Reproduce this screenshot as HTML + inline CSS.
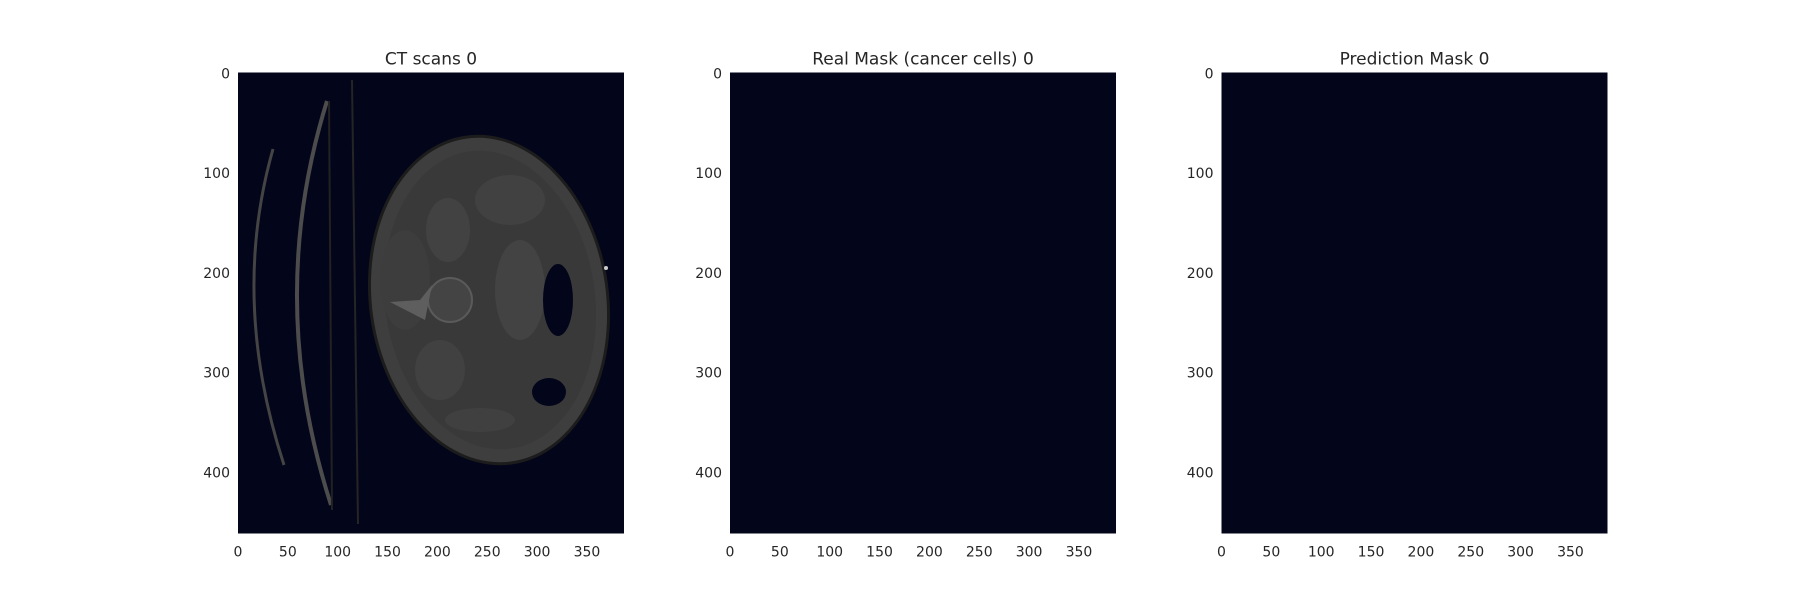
<!DOCTYPE html>
<html><head><meta charset="utf-8"><style>
body{margin:0;background:#fff;width:1800px;height:600px;overflow:hidden}
svg text{font-family:"DejaVu Sans","Liberation Sans",sans-serif;fill:#262626}
</style></head><body>
<svg width="1800" height="600" viewBox="0 0 1800 600">
<g id="panels"></g>
<defs><clipPath id="ct-clip"><rect x="238" y="72.5" width="386" height="461"/></clipPath></defs>
<g clip-path="url(#ct-clip)" id="ct">
  <path d="M273,149 Q230,300 284,465" stroke="#444" stroke-width="3" fill="none"/>
  <path d="M327,101 Q265,300 331,505" stroke="#4c4c4c" stroke-width="4" fill="none"/>
  <line x1="329" y1="101" x2="332" y2="510" stroke="#222" stroke-width="2"/>
  <line x1="352" y1="80" x2="358" y2="524" stroke="#252525" stroke-width="2"/>
  <ellipse cx="489" cy="300" rx="120" ry="166" fill="#1c1c1c" transform="rotate(-8 489 300)"/>
  <ellipse cx="489" cy="300" rx="117" ry="163" fill="#3e3e3e" transform="rotate(-8 489 300)"/>
  <ellipse cx="490" cy="300" rx="105" ry="150" fill="#393939" transform="rotate(-8 490 300)"/>
  <ellipse cx="448" cy="230" rx="22" ry="32" fill="#424242"/>
  <ellipse cx="510" cy="200" rx="35" ry="25" fill="#414141"/>
  <ellipse cx="520" cy="290" rx="25" ry="50" fill="#434343"/>
  <ellipse cx="440" cy="370" rx="25" ry="30" fill="#414141"/>
  <ellipse cx="480" cy="420" rx="35" ry="12" fill="#404040"/>
  <ellipse cx="405" cy="280" rx="25" ry="50" fill="#3d3d3d"/>
  <ellipse cx="450" cy="300" rx="22" ry="22" fill="#444" stroke="#5a5a5a" stroke-width="2"/>
  <path d="M390,302 L420,300 L432,285 L425,320 Z" fill="#5e5e5e"/>
  <ellipse cx="558" cy="300" rx="15" ry="36" fill="#03051a"/>
  <ellipse cx="549" cy="392" rx="17" ry="14" fill="#03051a"/>
  <circle cx="606" cy="268" r="2" fill="#ccc"/>
</g>
<script>
const xTicks=[0,50,100,150,200,250,300,350];
const yTicks=[0,100,200,300,400];
const titles=["CT scans 0","Real Mask (cancer cells) 0","Prediction Mask 0"];
const panelLeft=[238,730,1221.5];
const NS="http://www.w3.org/2000/svg";
const top0=72.5, W=386, H=461, scale=0.997;
const g=document.getElementById('panels');
function mk(t,a){const e=document.createElementNS(NS,t);for(const k in a)e.setAttribute(k,a[k]);return e;}
titles.forEach((t,i)=>{
  const L=panelLeft[i];
  const r=mk('rect',{x:L,y:top0,width:W,height:H,fill:'#03051a'});
  
  
  g.appendChild(r);
  const tt=mk('text',{x:L+W/2,y:64.5,'text-anchor':'middle','font-size':'17'});
  tt.textContent=t;
  
  
  g.appendChild(tt);
  xTicks.forEach(v=>{
    const e=mk('text',{x:L+v*scale,y:556.5,'text-anchor':'middle','font-size':'14'});
    e.textContent=v;
    
    
    g.appendChild(e);
  });
  yTicks.forEach(v=>{
    const e=mk('text',{x:L-8,y:top0+v*scale+6,'text-anchor':'end','font-size':'14'});
    e.textContent=v;
    
    
    g.appendChild(e);
  });
});
</script>
</svg>
</body></html>
